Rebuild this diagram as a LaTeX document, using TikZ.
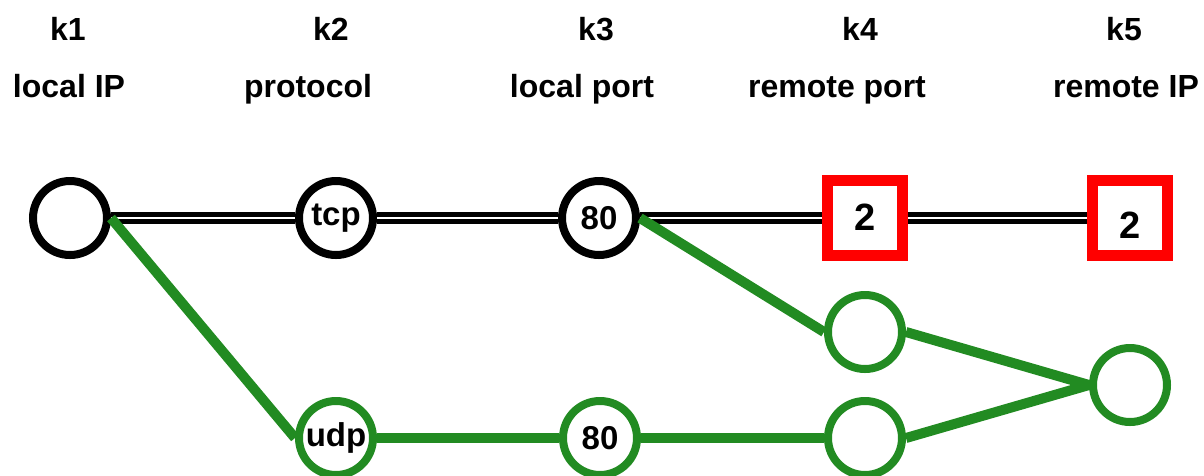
\documentclass[tikz,border=0pt]{standalone}
\usepackage{fontspec}
\setmainfont{Liberation Sans}
\definecolor{grn}{RGB}{34,139,34}
\begin{document}
\begin{tikzpicture}[x=1pt,y=-1pt,
  hdr/.style={font=\bfseries\fontsize{32}{32}\selectfont, anchor=base, inner sep=0pt},
  blk/.style={circle, draw=black, line width=8pt, minimum size=74pt, inner sep=0pt, fill=white, font=\bfseries\fontsize{33}{33}\selectfont},
  grc/.style={blk, draw=grn},
  redsq/.style={rectangle, draw=red, line width=11pt, minimum size=75pt, inner sep=0pt, fill=white, font=\bfseries\fontsize{38}{38}\selectfont},
  dbl/.style={draw=black, line width=4.5pt, double=white, double distance=2.5pt},
  gline/.style={draw=grn, line width=10pt}]
\useasboundingbox (0,0) rectangle (1204,475);
% headers
\node[hdr] (h1) at (68,40) {k1};
\node[hdr] (h2) at (331,40) {k2};
\node[hdr] (h3) at (596,40) {k3};
\node[hdr] (h4) at (860,40) {k4};
\node[hdr] (h5) at (1124,40) {k5};
\node[hdr] (l1) at (69,97) {local IP};
\node[hdr] (l2) at (308,97) {protocol};
\node[hdr] (l3) at (582,97) {local port};
\node[hdr] (l4) at (837,97) {remote port};
\node[hdr] (l5) at (1126,97) {remote IP};
% top row
\node[blk] (c1) at (70,218) {};
\node[blk] (c2) at (336,218) {tcp};
\node[blk] (c3) at (599,218) {80};
\node[redsq] (s4) at (865,218) {\raisebox{1pt}{2}};
\node[redsq, label={[font=\bfseries\fontsize{38}{38}\selectfont, yshift=-7pt]center:2}] (s5) at (1130,218) {};
% green nodes
\node[grc] (g4a) at (865,332) {};
\node[grc] (g5) at (1130,385) {};
\node[grc] (gu) at (336,438) {udp};
\node[grc] (g3) at (600,438) {80};
\node[grc] (g4b) at (865,438) {};
% black double edges
\draw[dbl] (c1.east) -- (c2.west);
\draw[dbl] (c2.east) -- (c3.west);
\draw[dbl] (c3.east) -- (s4.west);
\draw[dbl] (s4.east) -- (s5.west);
% green edges
\draw[gline] (c1.east) -- (gu.west);
\draw[gline] (gu.east) -- (g3.west);
\draw[gline] (g3.east) -- (g4b.west);
\draw[gline] (c3.east) -- (g4a.west);
\draw[gline] (g4a.east) -- (g5.west);
\draw[gline] (g4b.east) -- (g5.west);
\end{tikzpicture}
\end{document}
